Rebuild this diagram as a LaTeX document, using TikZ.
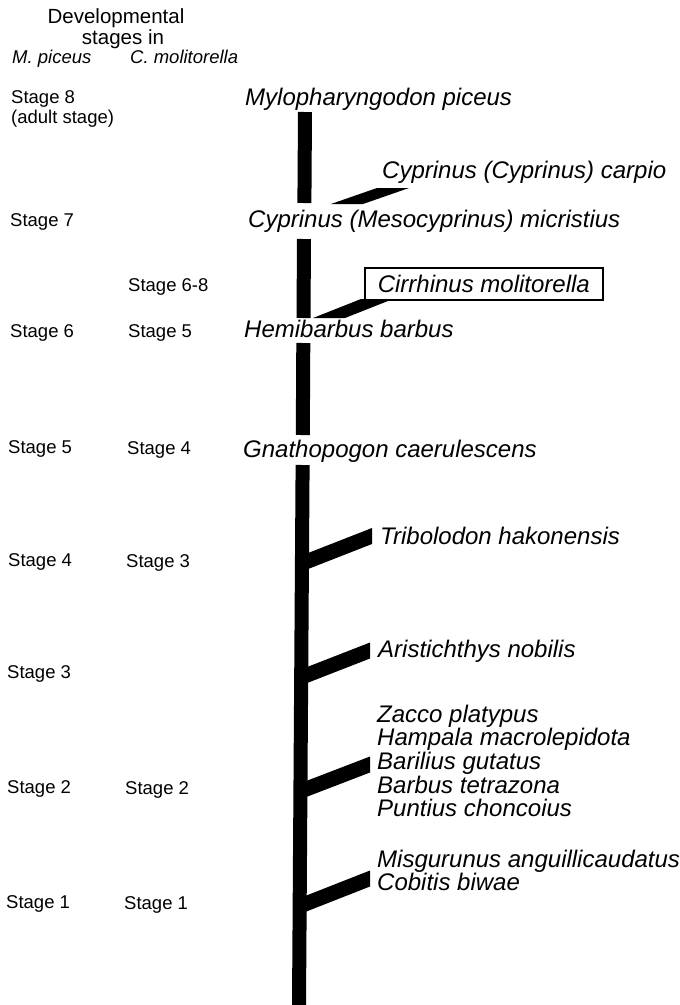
\documentclass[tikz,border=0pt]{standalone}
\usepackage{fontspec}
\setmainfont{Liberation Sans}
\usetikzlibrary{calc}

% slanted side branch with vertical ends (trunk end, label end)
\newcommand{\sidebar}[2]{\fill ($(#1)+(0,-8)$) -- ($(#2)+(0,-8)$) -- ($(#2)+(0,8)$) -- ($(#1)+(0,8)$) -- cycle;}
% slanted side branch with flat ends (lower end, upper end)
\newcommand{\flatbar}[2]{\fill ($(#1)+(-16,0)$) -- ($(#1)+(16,0)$) -- ($(#2)+(16,0)$) -- ($(#2)+(-16,0)$) -- cycle;}

\begin{document}
\begin{tikzpicture}[x=1pt, y=-1pt,
    head/.style={anchor=base, inner sep=0pt, font=\fontsize{20.5}{24}\selectfont},
    stage/.style={anchor=base west, inner sep=0pt, font=\fontsize{18.5}{22}\selectfont},
    species/.style={anchor=base west, inner sep=0pt, font=\fontsize{24}{28}\selectfont\itshape},
    stem/.style={line width=14pt}]
  \useasboundingbox (0,0) rectangle (680,1005);
  % Column heads
  \node[head] (headA) at (116,23) {Developmental};
  \node[head] (headB) at (123,44) {stages in};
  \node[stage, font=\fontsize{18.5}{22}\selectfont\itshape] (colM) at (12,63) {M. piceus};
  \node[stage, font=\fontsize{18.5}{22}\selectfont\itshape] (colC) at (130,63) {C. molitorella};
  % Stages in M. piceus
  \node[stage] (m8) at (11,103) {Stage 8};
  \node[stage] (m8b) at (11,123) {(adult stage)};
  \node[stage] (m7) at (10,226) {Stage 7};
  \node[stage] (m6) at (10,337) {Stage 6};
  \node[stage] (m5) at (8,453) {Stage 5};
  \node[stage] (m4) at (8,566) {Stage 4};
  \node[stage] (m3) at (7,678) {Stage 3};
  \node[stage] (m2) at (7,793) {Stage 2};
  \node[stage] (m1) at (6,908) {Stage 1};
  % Stages in C. molitorella
  \node[stage] (c68) at (128,291) {Stage 6-8};
  \node[stage] (c5) at (128,337) {Stage 5};
  \node[stage] (c4) at (127,454) {Stage 4};
  \node[stage] (c3) at (126,567) {Stage 3};
  \node[stage] (c2) at (125,794) {Stage 2};
  \node[stage] (c1) at (124,909) {Stage 1};
  % Species on the main line
  \node[species] (myl) at (245,105) {Mylopharyngodon piceus};
  \node[species] (mic) at (248,227) {Cyprinus (Mesocyprinus) micristius};
  \node[species] (hem) at (244,337) {Hemibarbus barbus};
  \node[species] (gna) at (243,457) {Gnathopogon caerulescens};
  % Species on side branches
  \node[species] (car) at (382,178) {Cyprinus (Cyprinus) carpio};
  \node[species, draw, line width=1.6pt, inner xsep=13pt, text height=24pt, text depth=8pt] (cir) at (364,292) {Cirrhinus molitorella};
  \node[species] (tri) at (380,544) {Tribolodon hakonensis};
  \node[species] (ari) at (378,657) {Aristichthys nobilis};
  \foreach \sp [count=\i] in {Zacco platypus, Hampala macrolepidota, Barilius gutatus, Barbus tetrazona, Puntius choncoius}
    \node[species] (zac\i) at (377,{698.3+23.7*\i}) {\sp};
  \node[species] (mis) at (377,867) {Misgurunus anguillicaudatus};
  \node[species] (cob) at (377,890) {Cobitis biwae};
  % Trunk
  \coordinate (t1) at (305,112);
  \coordinate (t2) at (304.4,203);
  \coordinate (t3) at (304,239);
  \coordinate (t4) at (303.5,318);
  \coordinate (t5) at (303.3,343);
  \coordinate (t6) at (302.8,435);
  \coordinate (t7) at (302.6,465);
  \coordinate (t8) at (299,1005);
  \draw[stem] (t1) -- (t2);
  \draw[stem] (t3) -- (t4);
  \draw[stem] (t5) -- (t6);
  \draw[stem] (t7) -- (t8);
  % Side branches
  \coordinate (carL) at (347,204);
  \coordinate (carR) at (393,188);
  \flatbar{carL}{carR}
  \coordinate (cirL) at (329,318);
  \coordinate (cirR) at (377,299);
  \flatbar{cirL}{cirR}
  \coordinate (triL) at (303,563);
  \coordinate (triR) at (372,536);
  \sidebar{triL}{triR}
  \coordinate (ariL) at (302,677);
  \coordinate (ariR) at (370,650.5);
  \sidebar{ariL}{ariR}
  \coordinate (zacL) at (301,791);
  \coordinate (zacR) at (370,764.5);
  \sidebar{zacL}{zacR}
  \coordinate (misL) at (300,906);
  \coordinate (misR) at (370,878.5);
  \sidebar{misL}{misR}
\end{tikzpicture}
\end{document}
